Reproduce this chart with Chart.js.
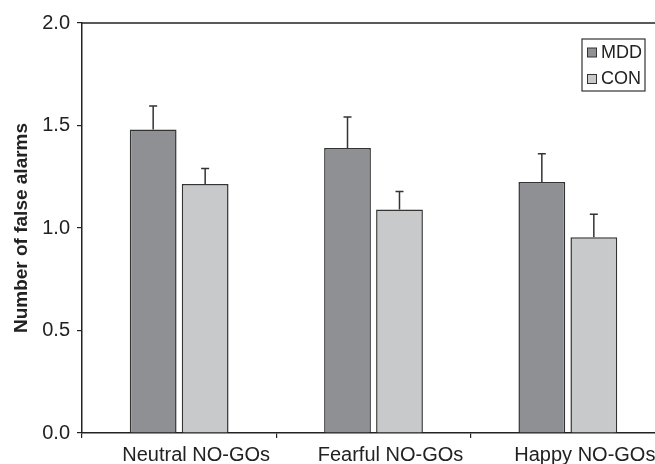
<!DOCTYPE html>
<html>
<head>
<meta charset="utf-8">
<style>
  html, body { margin: 0; padding: 0; background: #fff; overflow: hidden; }
  #wrap { width: 668px; height: 464px; }
</style>
<script src="https://cdn.jsdelivr.net/npm/chart.js@4/dist/chart.umd.min.js"></script>
</head>
<body>
<div id="wrap"><canvas id="c" width="668" height="464"></canvas></div>
<script>
// Mean number of false alarms per NO-GO condition, with one-sided error bars
const categories = ['Neutral NO-GOs', 'Fearful NO-GOs', 'Happy NO-GOs'];
const mddMeans = [1.48, 1.39, 1.225];
const mddErr   = [0.115, 0.152, 0.137];
const conMeans = [1.215, 1.09, 0.955];
const conErr   = [0.075, 0.088, 0.112];
const yTicks   = [0, 0.5, 1.0, 1.5, 2.0];

const FONT = '"Liberation Sans", Arial, sans-serif';
const INK = '#222';

const errorBars = {
  id: 'errorBars',
  afterDatasetsDraw(chart) {
    const ctx = chart.ctx;
    const ys = chart.scales.y;
    ctx.save();
    ctx.strokeStyle = '#333';
    ctx.lineWidth = 1.5;
    chart.data.datasets.forEach((ds, i) => {
      const meta = chart.getDatasetMeta(i);
      meta.data.forEach((bar, j) => {
        const top = ys.getPixelForValue(ds.data[j] + ds.errors[j]);
        ctx.beginPath();
        ctx.moveTo(bar.x, bar.y);
        ctx.lineTo(bar.x, top);
        ctx.moveTo(bar.x - 4, top);
        ctx.lineTo(bar.x + 4, top);
        ctx.stroke();
      });
    });
    ctx.restore();
  }
};

const frameTop = {
  id: 'frameTop',
  afterDraw(chart) {
    const { ctx, chartArea } = chart;
    ctx.save();
    ctx.strokeStyle = INK;
    ctx.lineWidth = 1.5;
    ctx.beginPath();
    ctx.moveTo(chartArea.left, chartArea.top);
    ctx.lineTo(chartArea.right, chartArea.top);
    ctx.stroke();
    ctx.restore();
  }
};

const boxLegend = {
  id: 'boxLegend',
  afterDraw(chart) {
    const ctx = chart.ctx;
    const x = 582, y = 39, w = 63, h = 52;
    ctx.save();
    ctx.fillStyle = '#fff';
    ctx.fillRect(x, y, w, h);
    ctx.strokeStyle = '#333';
    ctx.lineWidth = 1.2;
    ctx.strokeRect(x, y, w, h);
    ctx.font = '18px ' + FONT;
    ctx.textBaseline = 'middle';
    chart.data.datasets.forEach((ds, i) => {
      const cy = y + 13 + i * 26.5;
      ctx.fillStyle = ds.backgroundColor;
      ctx.fillRect(x + 5.5, cy - 4, 9, 9);
      ctx.strokeStyle = '#333';
      ctx.lineWidth = 1;
      ctx.strokeRect(x + 5.5, cy - 4, 9, 9);
      ctx.fillStyle = INK;
      ctx.fillText(ds.label, x + 19, cy + 1);
    });
    ctx.restore();
  }
};

new Chart(document.getElementById('c'), {
  type: 'bar',
  data: {
    labels: categories,
    datasets: [
      { label: 'MDD', data: mddMeans, errors: mddErr, backgroundColor: '#8f9094',
        borderColor: '#333', borderWidth: 1.5, categoryPercentage: 0.535, barPercentage: 0.9 },
      { label: 'CON', data: conMeans, errors: conErr, backgroundColor: '#c8c9cb',
        borderColor: '#333', borderWidth: 1.5, categoryPercentage: 0.535, barPercentage: 0.9 }
    ]
  },
  options: {
    responsive: false,
    animation: false,
    layout: { padding: { top: 23, right: 3, left: 0, bottom: 0 } },
    plugins: { legend: { display: false }, tooltip: { enabled: false } },
    scales: {
      x: {
        afterFit(s) { s.height = 31; },
        grid: { offset: true, drawOnChartArea: false, drawTicks: true, tickLength: 5, color: INK, lineWidth: 1.2 },
        border: { display: true, color: INK, width: 1.5 },
        ticks: { color: INK, padding: 5, labelOffset: 17, font: { family: FONT, size: 20 } }
      },
      y: {
        min: 0, max: 2,
        afterFit(s) { s.width = 82; },
        afterBuildTicks(s) { s.ticks = yTicks.map(v => ({ value: v })); },
        grid: { drawOnChartArea: false, drawTicks: true, tickLength: 5, color: INK, lineWidth: 1.2 },
        border: { display: true, color: INK, width: 1.5 },
        ticks: { color: INK, padding: 7, font: { family: FONT, size: 20 },
                 callback: v => Number(v).toFixed(1) },
        title: { display: true, text: 'Number of false alarms', color: INK,
                 padding: { top: 10, bottom: 0 },
                 font: { family: FONT, size: 19, weight: 'bold' } }
      }
    }
  },
  plugins: [errorBars, frameTop, boxLegend]
});
</script>
</body>
</html>
